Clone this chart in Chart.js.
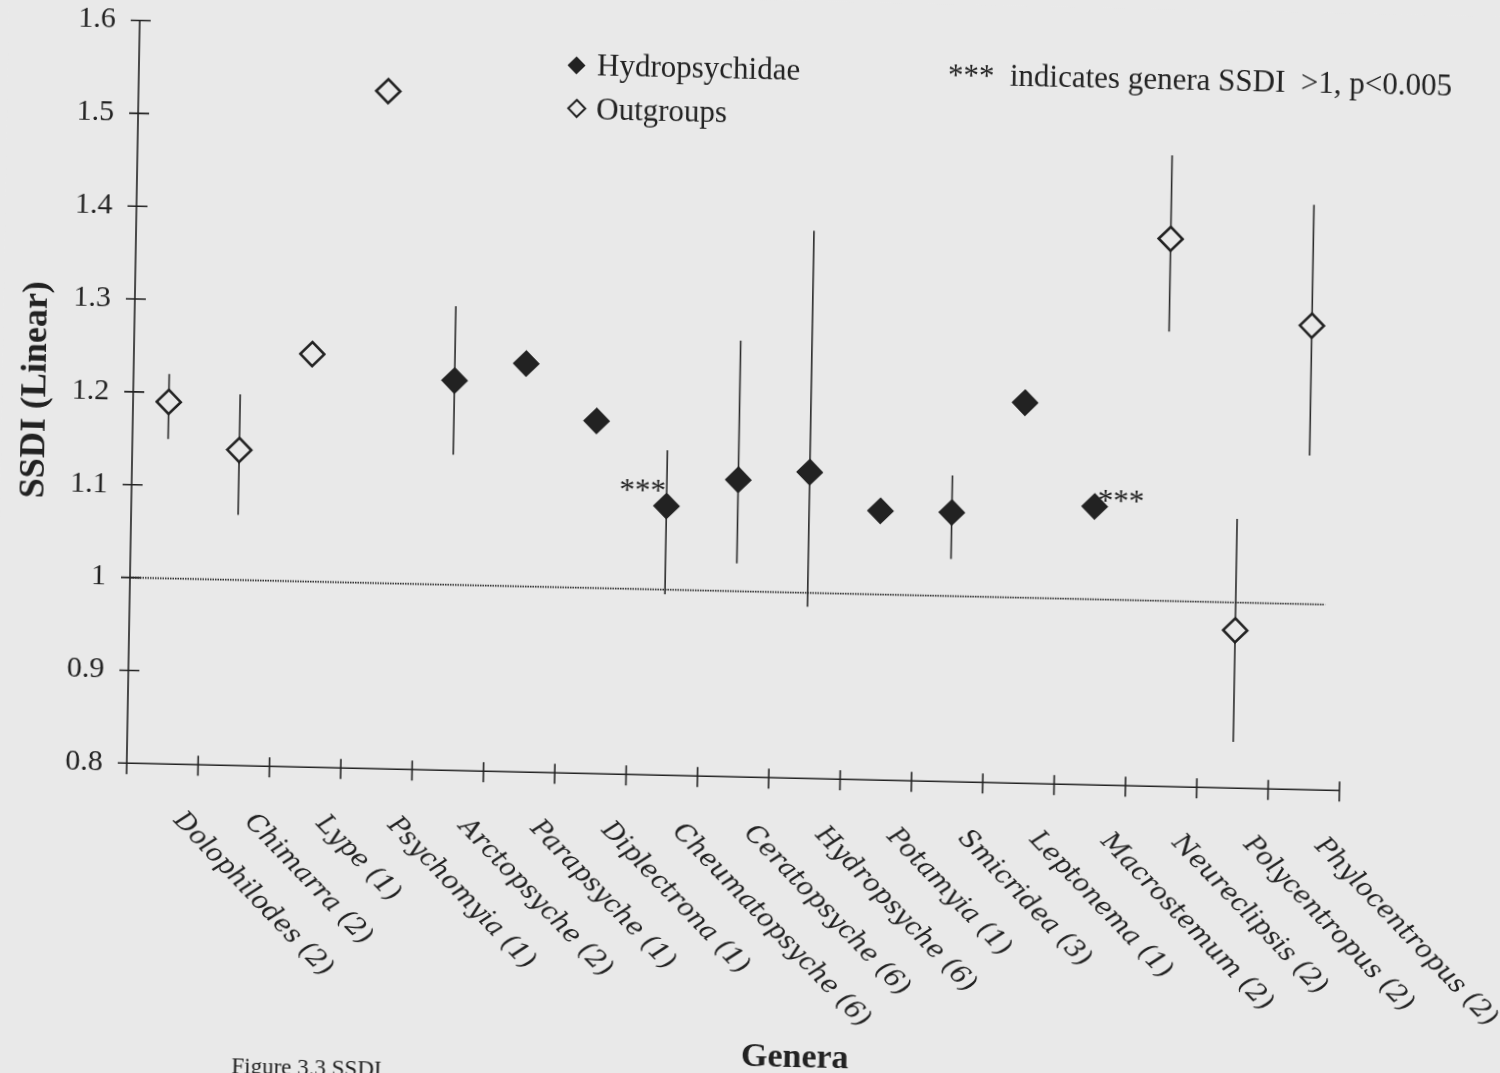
<!DOCTYPE html>
<html>
<head>
<meta charset="utf-8">
<script src="https://cdn.jsdelivr.net/npm/chart.js@4.4.1/dist/chart.umd.min.js"></script>
<style>
  html, body { margin: 0; padding: 0; background: #e9e9e9; overflow: hidden; }
  #page { position: relative; width: 1500px; height: 1073px; overflow: hidden; }
  /* the printed page sits slightly askew */
  #chart { position: absolute; left: 0; top: 0; transform: matrix(1, 0.0226, -0.0175, 1, 0, 0); transform-origin: 750px 536px; }
</style>
</head>
<body>
<div id="page"><canvas id="chart" width="1540" height="1120"></canvas></div>
<script>
// Genera (number of species in brackets), in plotting order
const genera = [
  'Dolophilodes (2)', 'Chimarra (2)', 'Lype (1)', 'Psychomyia (1)', 'Arctopsyche (2)',
  'Parapsyche (1)', 'Diplectrona (1)', 'Cheumatopsyche (6)', 'Ceratopsyche (6)',
  'Hydropsyche (6)', 'Potamyia (1)', 'Smicridea (3)', 'Leptonema (1)', 'Macrostemum (2)',
  'Neureclipsis (2)', 'Polycentropus (2)', 'Phylocentropus (2)'
];
// Family group of each genus
const family = [
  'Outgroups', 'Outgroups', 'Outgroups', 'Outgroups', 'Hydropsychidae',
  'Hydropsychidae', 'Hydropsychidae', 'Hydropsychidae', 'Hydropsychidae',
  'Hydropsychidae', 'Hydropsychidae', 'Hydropsychidae', 'Hydropsychidae', 'Hydropsychidae',
  'Outgroups', 'Outgroups', 'Outgroups'
];
// Mean SSDI per genus
const ssdi = [1.19, 1.14, 1.245, 1.53, 1.22, 1.24, 1.18, 1.09, 1.12, 1.13, 1.09, 1.09, 1.21, 1.10, 1.39, 0.97, 1.30];
// Error bar limits (null where only one value is available)
const errLow  = [1.15, 1.07, null, null, 1.14, null, null, 0.995, 1.03, 0.985, null, 1.04, null, null, 1.29, 0.85, 1.16];
const errHigh = [1.22, 1.20, null, null, 1.30, null, null, 1.15, 1.27, 1.39, null, 1.13, null, null, 1.48, 1.09, 1.43];
// Genera flagged as SSDI > 1, p < 0.005
const significant = ['Cheumatopsyche (6)', 'Macrostemum (2)'];
// Reference line at SSDI = 1
const refValue = 1;
const refSpan = [0, 16.75];
// Value axis
const yMin = 0.8, yMax = 1.6, yStep = 0.1;

const PAPER = '#e9e9e9';
const INK = '#222222';
const SERIF = '"Liberation Serif", "Times New Roman", serif';

const hydroData = ssdi.map((v, i) => family[i] === 'Hydropsychidae' ? v : null);
const outData = ssdi.map((v, i) => family[i] === 'Outgroups' ? v : null);

const paper = {
  id: 'paper',
  beforeDraw(chart) {
    const c = chart.ctx;
    c.save();
    c.fillStyle = PAPER;
    c.fillRect(0, 0, chart.width, chart.height);
    c.restore();
  }
};

// Axis lines with tick marks crossing the axes, plus error bars
const axesAndBars = {
  id: 'axesAndBars',
  beforeDatasetsDraw(chart) {
    const { ctx, chartArea: a, scales: { x, y } } = chart;
    ctx.save();
    ctx.strokeStyle = INK;
    ctx.lineWidth = 1.6;
    ctx.beginPath();
    ctx.moveTo(a.left, y.getPixelForValue(yMax));
    ctx.lineTo(a.left, a.bottom);
    ctx.lineTo(a.right, a.bottom);
    y.ticks.forEach(t => {
      const py = y.getPixelForValue(t.value);
      ctx.moveTo(a.left - 9, py);
      ctx.lineTo(a.left + 11, py);
    });
    for (let i = 0; i <= genera.length; i++) {
      const px = x.getPixelForValue(i - 0.5);
      ctx.moveTo(px, a.bottom - 9);
      ctx.lineTo(px, a.bottom + 11);
    }
    ctx.stroke();

    ctx.strokeStyle = '#2c2c2c';
    ctx.lineWidth = 1.6;
    ctx.beginPath();
    genera.forEach((g, i) => {
      if (errLow[i] == null || errHigh[i] == null) return;
      const px = x.getPixelForValue(i);
      ctx.moveTo(px, y.getPixelForValue(errHigh[i]));
      ctx.lineTo(px, y.getPixelForValue(errLow[i]));
    });
    ctx.stroke();
    ctx.restore();
  }
};

function diamond(ctx, cx, cy, r, filled) {
  ctx.beginPath();
  ctx.moveTo(cx, cy - r);
  ctx.lineTo(cx + r, cy);
  ctx.lineTo(cx, cy + r);
  ctx.lineTo(cx - r, cy);
  ctx.closePath();
  if (filled) { ctx.fillStyle = INK; ctx.fill(); }
  else { ctx.lineWidth = 2; ctx.strokeStyle = INK; ctx.stroke(); }
}

// Category labels, legend, notes and titles
const annotations = {
  id: 'annotations',
  afterDraw(chart) {
    const { ctx, chartArea: a, scales: { x, y } } = chart;
    ctx.save();
    ctx.fillStyle = INK;

    // slanted genus labels
    ctx.font = 'italic 26px "DejaVu Serif", serif';
    ctx.textAlign = 'left';
    ctx.textBaseline = 'middle';
    genera.forEach((g, i) => {
      const px = x.getPixelForValue(i);
      ctx.save();
      ctx.translate(px + 16, a.bottom + 52);
      ctx.rotate(Math.PI / 4);
      ctx.fillText(g, 0, 0);
      ctx.restore();
    });

    // significance marks
    ctx.font = '31px ' + SERIF;
    ctx.textBaseline = 'alphabetic';
    significant.forEach(g => {
      const i = genera.indexOf(g);
      const px = x.getPixelForValue(i);
      const py = y.getPixelForValue(ssdi[i]);
      if (g === 'Cheumatopsyche (6)') {
        ctx.textAlign = 'right';
        ctx.fillText('***', px - 1, py - 5.5);
      } else {
        ctx.textAlign = 'left';
        ctx.fillText('***', px + 3, py + 4);
      }
    });

    // legend
    ctx.textAlign = 'left';
    diamond(ctx, 568.5, 69.5, 9, true);
    ctx.fillStyle = INK;
    ctx.fillText('Hydropsychidae', 589, 78.5);
    diamond(ctx, 569.5, 112.5, 8.5, false);
    ctx.fillText('Outgroups', 589, 123.3);
    ctx.fillText('***', 940, 81);
    ctx.fillText('indicates genera SSDI  >1, p<0.005', 1002, 79.5);

    // axis title
    ctx.font = 'bold 34px ' + SERIF;
    ctx.textAlign = 'center';
    ctx.fillText('Genera', 804, 1066);

    // caption
    ctx.font = '23px ' + SERIF;
    ctx.textAlign = 'left';
    ctx.fillText('Figure 3.3 SSDI', 241, 1085);
    ctx.restore();
  }
};

new Chart(document.getElementById('chart'), {
  type: 'line',
  data: {
    labels: genera,
    datasets: [
      {
        label: 'Hydropsychidae',
        data: hydroData,
        showLine: false,
        pointStyle: 'rectRot',
        pointRadius: 12.5,
        pointBackgroundColor: INK,
        pointBorderColor: INK,
        pointBorderWidth: 1.5
      },
      {
        label: 'Outgroups',
        data: outData,
        showLine: false,
        pointStyle: 'rectRot',
        pointRadius: 12,
        pointBackgroundColor: PAPER,
        pointBorderColor: INK,
        pointBorderWidth: 2.6
      },
      {
        label: 'SSDI = 1',
        xAxisID: 'x2',
        data: refSpan.map(v => ({ x: v, y: refValue })),
        borderColor: '#2a2a2a',
        borderWidth: 1.7,
        borderDash: [1.5, 1],
        pointRadius: 0,
        fill: false
      }
    ]
  },
  options: {
    responsive: false,
    animation: false,
    devicePixelRatio: 1,
    layout: { padding: { top: 34.5, right: 196, bottom: 0, left: 0 } },
    plugins: { legend: { display: false }, tooltip: { enabled: false } },
    scales: {
      x: {
        type: 'category',
        offset: true,
        grid: { display: false, drawTicks: false, offset: true },
        border: { display: false },
        ticks: { display: false },
        afterFit(s) { s.height = 1120 - 777.3; }
      },
      x2: {
        type: 'linear',
        display: false,
        min: 0,
        max: genera.length
      },
      y: {
        min: yMin,
        max: yMax,
        grid: { display: false, drawTicks: false },
        border: { display: false },
        ticks: {
          stepSize: yStep,
          padding: 24,
          color: INK,
          font: { family: SERIF, size: 30 },
          callback: v => String(Math.round(v * 10) / 10)
        },
        title: {
          display: true,
          text: 'SSDI (Linear)',
          color: INK,
          font: { family: SERIF, size: 36, weight: 'bold' },
          padding: { top: 12, bottom: 0 }
        },
        afterFit(s) { s.width = 131; s.paddingTop = 0; s.paddingBottom = 0; }
      }
    }
  },
  plugins: [paper, axesAndBars, annotations]
});
</script>
</body>
</html>
